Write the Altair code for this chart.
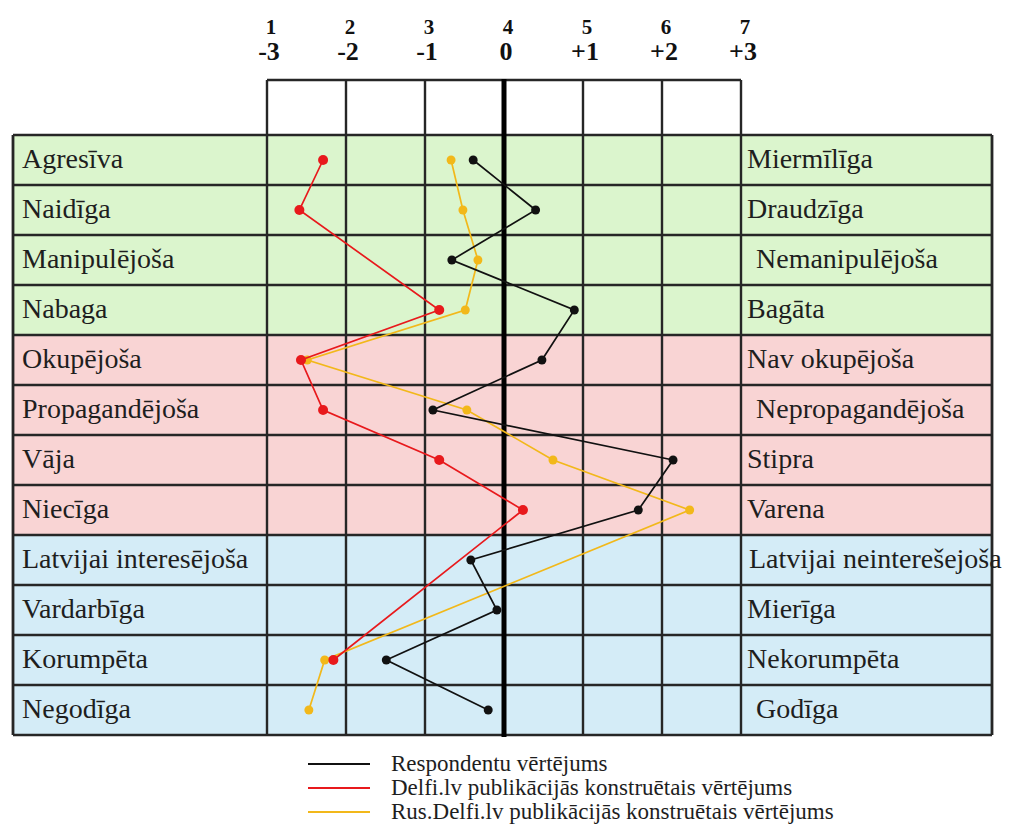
import altair as alt
import pandas as pd

# ---------------- data ----------------
left_labels = ["Agresīva", "Naidīga", "Manipulējoša", "Nabaga", "Okupējoša", "Propagandējoša",
               "Vāja", "Niecīga", "Latvijai interesējoša", "Vardarbīga", "Korumpēta", "Negodīga"]
right_labels = ["Miermīlīga", "Draudzīga", "Nemanipulējoša", "Bagāta", "Nav okupējoša", "Nepropagandējoša",
                "Stipra", "Varena", "Latvijai neinterešejoša", "Mierīga", "Nekorumpēta", "Godīga"]
right_indent_px = [0, 0, 9, 0, 0, 9, 0, 0, 2, 0, 0, 9]
row_groups = ["A", "A", "A", "A", "B", "B", "B", "B", "C", "C", "C", "C"]
group_names = ["A", "B", "C"]
group_colors = ["#dbf5cd", "#f9d4d4", "#d4ecf7"]

scale_top = ["1", "2", "3", "4", "5", "6", "7"]
scale_bottom = ["-3", "-2", "-1", "0", "+1", "+2", "+3"]

series_names = ["Respondentu vērtējums",
                "Delfi.lv publikācijās konstruētais vērtējums",
                "Rus.Delfi.lv publikācijās konstruētais vērtējums"]
series_colors = ["#111111", "#e8191c", "#f2b81a"]

respondenti = [3.61, 4.40, 3.34, 4.89, 4.48, 3.10, 6.14, 5.70, 3.58, 3.91, 2.51, 3.80]
delfi = [1.71, 1.41, None, 3.18, 1.43, 1.71, 3.18, 4.24, None, None, 1.84, None]
rus_delfi = [3.33, 3.48, 3.67, 3.51, 1.51, 3.53, 4.62, 6.35, None, None, 1.73, 1.53]
series_values = [respondenti, delfi, rus_delfi]

# ---------------- layout helpers (page pixels -> scale units) ----------------
W, H = 997, 818


def X(px):
    return 1 + (px - 267) / 79.0


def R(py):
    return (py - 135) / 50.0


xs = alt.Scale(domain=[X(8), X(8 + W)], nice=False, zero=False)
ys = alt.Scale(domain=[R(8), R(8 + H)], nice=False, zero=False, reverse=True)

n = len(left_labels)
rows = pd.DataFrame({
    "i": list(range(n)),
    "r0": list(range(n)),
    "r1": [i + 1 for i in range(n)],
    "rc": [i + 0.5 for i in range(n)],
    "grp": row_groups,
    "left": left_labels,
    "right": right_labels,
    "indent": right_indent_px,
})
rows["xa"] = X(13)
rows["xb"] = X(992)
rows["lx"] = X(22)
rows["rx"] = X(747) + rows["indent"] / 79.0

bg = alt.Chart(rows).mark_rect(strokeWidth=0).encode(
    x=alt.X("xa:Q", scale=xs, axis=None), x2="xb:Q",
    y=alt.Y("r0:Q", scale=ys, axis=None), y2="r1:Q",
    fill=alt.Fill("grp:N", scale=alt.Scale(domain=group_names, range=group_colors), legend=None),
)

LINE = "#262626"
# horizontal separators
hl = pd.DataFrame({"y": list(range(n + 1))})
hl["x1"] = X(13)
hl["x2"] = X(992)
hrules = alt.Chart(hl).mark_rule(color=LINE, strokeWidth=2.4).encode(
    x=alt.X("x1:Q", scale=xs, axis=None), x2="x2:Q",
    y=alt.Y("y:Q", scale=ys, axis=None),
)
top = pd.DataFrame({"x1": [1], "x2": [7], "y": [R(80)]})
toprule = alt.Chart(top).mark_rule(color=LINE, strokeWidth=2.4).encode(
    x=alt.X("x1:Q", scale=xs, axis=None), x2="x2:Q",
    y=alt.Y("y:Q", scale=ys, axis=None),
)

# vertical lines
vl = pd.DataFrame({"x": [v for v in range(1, 8) if v != 4]})
vl["y1"] = R(80)
vl["y2"] = n
vrules = alt.Chart(vl).mark_rule(color=LINE, strokeWidth=2.4).encode(
    x=alt.X("x:Q", scale=xs, axis=None),
    y=alt.Y("y1:Q", scale=ys, axis=None), y2="y2:Q",
)
edges = pd.DataFrame({"x": [X(13), X(992)], "y1": [0, 0], "y2": [n, n]})
erules = alt.Chart(edges).mark_rule(color=LINE, strokeWidth=2.8).encode(
    x=alt.X("x:Q", scale=xs, axis=None),
    y=alt.Y("y1:Q", scale=ys, axis=None), y2="y2:Q",
)
center = pd.DataFrame({"x": [4], "y1": [R(79)], "y2": [R(737)]})
crule = alt.Chart(center).mark_rule(color="#000000", strokeWidth=5).encode(
    x=alt.X("x:Q", scale=xs, axis=None),
    y=alt.Y("y1:Q", scale=ys, axis=None), y2="y2:Q",
)

# scale numbers on top
nums = pd.DataFrame({"x": list(range(1, 8)), "top": scale_top, "bottom": scale_bottom})
nums["yt"] = R(28)
nums["yb"] = R(52)
num_top = alt.Chart(nums).mark_text(font="Liberation Serif", fontSize=21, fontWeight="bold",
                                    color="#111111", baseline="middle", align="center", dx=4).encode(
    x=alt.X("x:Q", scale=xs, axis=None), y=alt.Y("yt:Q", scale=ys, axis=None), text="top:N")
num_bot = alt.Chart(nums).mark_text(font="Liberation Serif", fontSize=26, fontWeight="bold",
                                    color="#111111", baseline="middle", align="center", dx=2).encode(
    x=alt.X("x:Q", scale=xs, axis=None), y=alt.Y("yb:Q", scale=ys, axis=None), text="bottom:N")

# row labels
ltext = alt.Chart(rows).mark_text(font="Liberation Serif", fontSize=28, color="#1e1e1e",
                                  align="left", baseline="middle").encode(
    x=alt.X("lx:Q", scale=xs, axis=None), y=alt.Y("rc:Q", scale=ys, axis=None), text="left:N")
rtext = alt.Chart(rows).mark_text(font="Liberation Serif", fontSize=28, color="#1e1e1e",
                                  align="left", baseline="middle").encode(
    x=alt.X("rx:Q", scale=xs, axis=None), y=alt.Y("rc:Q", scale=ys, axis=None), text="right:N")

color_scale = alt.Scale(domain=series_names, range=series_colors)

# series lines and points (drawn yellow, red, black)
series_layers = []
for k in [2, 1, 0]:
    recs = [{"series": series_names[k], "row": i + 0.5, "value": v}
            for i, v in enumerate(series_values[k]) if v is not None]
    sdf = pd.DataFrame(recs)
    base = alt.Chart(sdf).encode(
        x=alt.X("value:Q", scale=xs, axis=None),
        y=alt.Y("row:Q", scale=ys, axis=None),
        order=alt.Order("row:Q"),
    )
    series_layers.append(base.mark_line(strokeWidth=1.7).encode(
        stroke=alt.Stroke("series:N", scale=color_scale, legend=None)))
    series_layers.append(base.mark_circle(size=80 if k != 1 else 100, opacity=1).encode(
        color=alt.Color("series:N", scale=color_scale, legend=None)))

# custom legend
leg = pd.DataFrame({"series": series_names, "k": [0, 1, 2]})
leg["y"] = [R(764 + 24 * k) for k in range(3)]
leg["x1"] = X(308)
leg["x2"] = X(370)
leg["tx"] = X(391)
leg_rules = alt.Chart(leg).mark_rule(strokeWidth=2).encode(
    x=alt.X("x1:Q", scale=xs, axis=None), x2="x2:Q",
    y=alt.Y("y:Q", scale=ys, axis=None),
    stroke=alt.Stroke("series:N", scale=color_scale, legend=None),
)
leg_text = alt.Chart(leg).mark_text(font="Liberation Serif", fontSize=23, color="#1e1e1e",
                                    align="left", baseline="middle").encode(
    x=alt.X("tx:Q", scale=xs, axis=None), y=alt.Y("y:Q", scale=ys, axis=None), text="series:N")

chart = alt.layer(
    bg, hrules, toprule, vrules, erules, crule, num_top, num_bot, ltext, rtext,
    *series_layers, leg_rules, leg_text
).properties(
    width=W, height=H, padding=0, autosize=alt.AutoSizeParams(type="none")
).configure_view(stroke=None)

chart.save("out.html", embed_options={"renderer": "svg", "actions": False})
